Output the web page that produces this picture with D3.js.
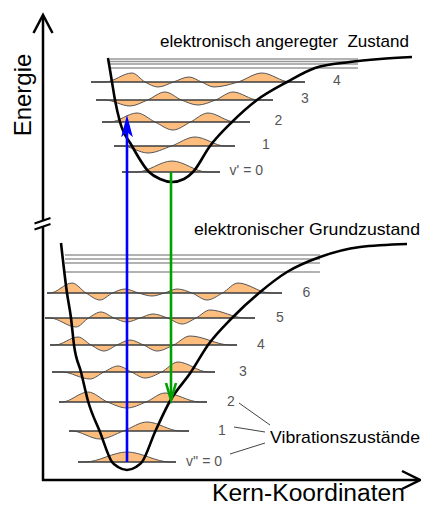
<!DOCTYPE html>
<html>
<head>
<meta charset="utf-8">
<script src="https://cdn.jsdelivr.net/npm/d3@7"></script>
<style>
  body { margin: 0; background: #fff; }
  svg { display: block; font-family: "Liberation Sans", Arial, sans-serif; }
</style>
</head>
<body>
<svg width="421" height="506"></svg>
<script>
// r = nuclear coordinate, E = energy (arbitrary units)

// ground state potential
var groundCurve = [[18,237],[24,187],[28,162],[31,135],[38,108],[45,79],[57,48],[69,18],[75,13],[84,10],
  [93,13],[99,18],[112,48],[127,79],[148,108],[165,135],[189,162],[216,187],[244,208],[277,223],[317,233],[364,236]];
// excited state potential
var excitedCurve = [[65,422],[69,398],[72,380],[77,358],[89,334],[106,308],[117,301],[129,298],[141,301],[150,308],
  [167,334],[189,358],[214,380],[244,398],[272,412],[307,418],[337,421],[369,423]];

// vibrational levels: energy, level line extent, wave tails, lobes [r, amplitude]
var groundE = [18, 49, 78, 108, 135, 162, 187];
var groundLine = [[35,133],[26,146],[16,164],[9,172],[7,194],[2,212],[4,239]];
var groundTail = [[42,127],[29,137],[19,157],[19,165],[12,187],[7,202],[7,227]];
var groundLobes = [
  [[84,10]],
  [[57,-8],[104,9]],
  [[45,10],[84,-6],[122,9]],
  [[47,-7],[75,6],[102,-6],[135,10]],
  [[35,8],[61,-6],[87,5],[114,-6],[147,9]],
  [[33,-9],[58,6],[84,-4],[110,4],[139,-6],[167,8]],
  [[29,10],[57,-7],[82,4],[109,-3],[134,4],[164,-7],[195,10]]
];
var groundLabels = ["v'' = 0", "1", "2", "3", "4", "5", "6"];
var groundLabelR = [179, 179, 188, 200, 218, 237, 263.5];

var excitedE = [308, 334, 358, 380, 398];
var excitedLine = [[79,177],[71,192],[59,207],[53,230],[48,262]];
var excitedTail = [[94,164],[79,182],[67,192],[62,215],[62,247]];
var excitedLobes = [
  [[129,11]],
  [[105,-7],[152,9]],
  [[94,9],[130,-8],[165,9]],
  [[87,-6],[122,8],[155,-5],[190,8]],
  [[89,9],[115,-5],[146,5],[171,-5],[219,9]]
];
var excitedLabels = ["v' = 0", "1", "2", "3", "4"];
var excitedLabelR = [220, 223, 235.5, 262, 294];

// dissociation continuum lines
var groundContE = [225, 221, 217, 208];
var groundContR = [22, 277];
var excitedContE = [421, 418.5, 416, 412];
var excitedContR = [67, 315];

// transitions: [r, from E, to E]
var absorption = [84, 18, 362];
var emission = [128, 308, 80];

var svg = d3.select("svg");
var x = d3.scaleLinear().domain([0, 377]).range([43, 420]);
var y = d3.scaleLinear().domain([0, 465]).range([480, 15]);

// continuum lines
function contLines(es, rr) {
  svg.append("g").selectAll("line").data(es).enter().append("line")
    .attr("x1", x(rr[0])).attr("x2", x(rr[1]))
    .attr("y1", function(d){ return y(d); }).attr("y2", function(d){ return y(d); })
    .attr("stroke", "#999").attr("stroke-width", 1.4);
}
contLines(groundContE, groundContR);
contLines(excitedContE, excitedContR);

// wavefunctions + level lines
function levels(es, lines, tails, lobes) {
  var g = svg.append("g");
  es.forEach(function(E, i) {
    var pts = [[lines[i][0], 0], [tails[i][0], 0]];
    lobes[i].forEach(function(l, k) {
      if (k > 0) pts.push([(lobes[i][k-1][0] + l[0]) / 2, 0]);
      pts.push(l);
    });
    pts.push([tails[i][1], 0], [lines[i][1], 0]);
    var line = d3.line()
      .x(function(d){ return x(d[0]); })
      .y(function(d){ return y(E + d[1]); })
      .curve(d3.curveMonotoneX);
    g.append("path").attr("d", line(pts) + "Z")
      .attr("fill", "#fdbd7f").attr("stroke", "#555").attr("stroke-width", 1);
    g.append("line")
      .attr("x1", x(lines[i][0])).attr("x2", x(lines[i][1]))
      .attr("y1", y(E)).attr("y2", y(E))
      .attr("stroke", "#333").attr("stroke-width", 1.1);
  });
}
levels(groundE, groundLine, groundTail, groundLobes);
levels(excitedE, excitedLine, excitedTail, excitedLobes);

// potential curves
var pot = d3.line().x(function(d){ return x(d[0]); }).y(function(d){ return y(d[1]); })
  .curve(d3.curveMonotoneX);
svg.append("path").attr("d", pot(groundCurve)).attr("fill", "none")
  .attr("stroke", "#000").attr("stroke-width", 2.6);
svg.append("path").attr("d", pot(excitedCurve)).attr("fill", "none")
  .attr("stroke", "#000").attr("stroke-width", 2.6);

// absorption arrow (blue)
var bx = x(absorption[0]), b0 = y(absorption[1]), b1 = y(absorption[2]);
svg.append("line").attr("x1", bx).attr("x2", bx).attr("y1", b0).attr("y2", b1 + 10)
  .attr("stroke", "#0000ff").attr("stroke-width", 2.6);
svg.append("path")
  .attr("d", "M" + bx + "," + b1 + "L" + (bx - 4.5) + "," + (b1 + 17) + "L" + bx + "," + (b1 + 13) +
    "L" + (bx + 4.5) + "," + (b1 + 17) + "Z")
  .attr("fill", "#0000ff").attr("stroke", "#0000ff").attr("stroke-width", 1.5);

// emission arrow (green)
var gx = x(emission[0]), g0 = y(emission[1]), g1 = y(emission[2]);
svg.append("line").attr("x1", gx).attr("x2", gx).attr("y1", g0).attr("y2", g1)
  .attr("stroke", "#00a000").attr("stroke-width", 2.6);
svg.append("path")
  .attr("d", "M" + (gx - 5) + "," + (g1 - 17) + "L" + gx + "," + g1 + "L" + (gx + 5) + "," + (g1 - 17))
  .attr("fill", "none").attr("stroke", "#00a000").attr("stroke-width", 2.6);

// axes
var ax = svg.append("g").attr("stroke", "#000").attr("stroke-width", 2.5).attr("fill", "none");
ax.append("path").attr("d", "M43,16V221");
ax.append("path").attr("d", "M43,226V480H419");
ax.append("path").attr("d", "M33.5,33L43,15L52.5,33");
ax.append("path").attr("d", "M402,471L420,480L402,489");
ax.append("path").attr("d", "M34.5,223.5L50.5,218M34.5,229.5L50.5,224").attr("stroke-width", 2);

// level labels
svg.append("g").selectAll("text").data(groundLabels).enter().append("text")
  .attr("x", function(d, i){ return x(groundLabelR[i]); })
  .attr("y", function(d, i){ return y(groundE[i]) + 3.5; })
  .attr("text-anchor", function(d, i){ return i === 0 ? "end" : "middle"; })
  .attr("font-size", 14).attr("fill", "#555").text(function(d){ return d; });
svg.append("g").selectAll("text").data(excitedLabels).enter().append("text")
  .attr("x", function(d, i){ return x(excitedLabelR[i]); })
  .attr("y", function(d, i){ return y(excitedE[i]) + 2.5; })
  .attr("text-anchor", function(d, i){ return i === 0 ? "end" : "middle"; })
  .attr("font-size", 14).attr("fill", "#555").text(function(d){ return d; });

// pointer lines to "Vibrationszustände"
svg.append("path").attr("d", "M239,403L270,425M234,427L265,432M230,454L265,443")
  .attr("stroke", "#444").attr("stroke-width", 1).attr("fill", "none");

// texts
svg.append("text").attr("x", 160).attr("y", 47).attr("font-size", 17)
  .attr("textLength", 249).attr("lengthAdjust", "spacingAndGlyphs")
  .style("white-space", "pre").text("elektronisch angeregter  Zustand");
svg.append("text").attr("x", 194).attr("y", 235).attr("font-size", 17)
  .attr("textLength", 226).attr("lengthAdjust", "spacingAndGlyphs")
  .text("elektronischer Grundzustand");
svg.append("text").attr("x", 270).attr("y", 443).attr("font-size", 17)
  .attr("textLength", 150).attr("lengthAdjust", "spacingAndGlyphs")
  .text("Vibrationszustände");
svg.append("text").attr("x", 212).attr("y", 501).attr("font-size", 23)
  .attr("textLength", 193).attr("lengthAdjust", "spacingAndGlyphs")
  .text("Kern-Koordinaten");
svg.append("text").attr("transform", "translate(31,95) rotate(-90)")
  .attr("text-anchor", "middle").attr("font-size", 24).text("Energie");
</script>
</body>
</html>
